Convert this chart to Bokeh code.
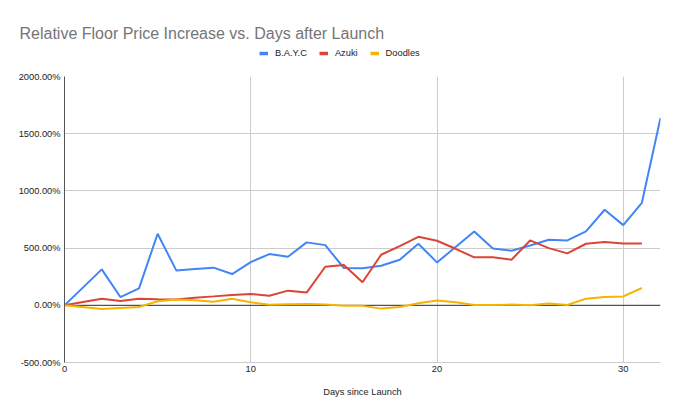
from bokeh.plotting import figure
from bokeh.layouts import column
from bokeh.models import Range1d, Span, Label, Legend, LegendItem, PrintfTickFormatter, FixedTicker, ColumnDataSource
from bokeh.embed import file_html
from bokeh.resources import INLINE

# ---- data (percent increase vs. launch) ----
days_bayc = [0, 2, 3, 4, 5, 6, 7, 8, 9, 10, 11, 12, 13, 14, 15, 16, 17, 18, 19, 20, 21, 22, 23, 24, 25, 26, 27, 28, 29, 30, 31, 32]
bayc = [0, 314, 72, 148, 625, 305, 317, 329, 273, 378, 448, 425, 550, 526, 326, 323, 346, 398, 538, 375, 510, 646, 497, 477, 523, 573, 567, 646, 835, 701, 896, 1638]

days_other = [0, 2, 3, 4, 5, 6, 7, 8, 9, 10, 11, 12, 13, 14, 15, 16, 17, 18, 19, 20, 21, 22, 23, 24, 25, 26, 27, 28, 29, 30, 31]
azuki = [0, 58, 38, 58, 52, 50, 67, 78, 90, 99, 84, 128, 111, 337, 352, 201, 442, 518, 599, 564, 494, 419, 419, 398, 567, 500, 454, 538, 553, 541, 541]
doodles = [0, -32, -23, -15, 35, 50, 45, 32, 58, 26, 5, 10, 11, 8, -3, -5, -29, -15, 17, 41, 26, 3, 2, 6, 0, 15, 3, 58, 73, 78, 151]

y_ticks = [-500, 0, 500, 1000, 1500, 2000]
x_ticks = [0, 10, 20, 30]

series_names = ["B.A.Y.C", "Azuki", "Doodles"]
series_colors = ["#4285F4", "#DB4437", "#F4B400"]
series_x = [days_bayc, days_other, days_other]
series_y = [bayc, azuki, doodles]

title_text = "Relative Floor Price Increase vs. Days after Launch"
x_title = "Days since Launch"

FONT = "Liberation Sans"
GRID = "#cccccc"
W = 664
HEAD_H = 68

# ---- header: title + legend ----
head = figure(width=W, height=HEAD_H, output_backend="svg", toolbar_location=None,
              x_range=Range1d(0, W), y_range=Range1d(HEAD_H, 0),
              min_border_left=0, min_border_right=0, min_border_top=0, min_border_bottom=0)
head.frame_align = False
head.axis.visible = False
head.grid.visible = False
head.outline_line_color = None
head.border_fill_color = "white"
head.background_fill_color = "white"

head.add_layout(Label(x=19, y=33, text=title_text, text_font=FONT, text_font_size="16px",
                      text_color="#757575", text_baseline="alphabetic"))

items = []
for name, col in zip(series_names, series_colors):
    # legend-only renderer (no visible data)
    dummy = head.line(x=[float("nan")], y=[float("nan")], line_color=col, line_width=3.5)
    items.append(LegendItem(label=name, renderers=[dummy]))
legend = Legend(items=items, orientation="horizontal", location=(259, 9),
                glyph_width=9, glyph_height=12, label_height=12, label_standoff=7, spacing=12,
                padding=0, margin=0, border_line_color=None, background_fill_alpha=0,
                label_text_font=FONT, label_text_font_size="9.3px", label_text_color="#222222")
head.add_layout(legend, "center")

# ---- main chart ----
p = figure(width=W, height=401 - HEAD_H, output_backend="svg", toolbar_location=None,
           x_range=Range1d(0, 32), y_range=Range1d(-500, 2000),
           min_border_left=64, min_border_right=4, min_border_top=8, min_border_bottom=39)
p.frame_align = False
p.outline_line_color = None
p.background_fill_color = "white"
p.border_fill_color = "white"

p.yaxis.ticker = FixedTicker(ticks=y_ticks)
p.xaxis.ticker = FixedTicker(ticks=x_ticks)
p.yaxis.formatter = PrintfTickFormatter(format="%.2f%%")
for ax in (p.xaxis, p.yaxis):
    ax.major_tick_line_color = None
    ax.minor_tick_line_color = None
    ax.major_tick_out = 0
    ax.major_tick_in = 0
    ax.major_label_text_font = FONT
    ax.major_label_text_font_size = "9.3px"
    ax.major_label_text_color = "#222222"
    ax.major_label_standoff = 4
p.yaxis.axis_line_color = "#555555"
p.xaxis.axis_line_color = GRID
p.xaxis.major_label_standoff = 3

p.xaxis.axis_label = x_title
p.xaxis.axis_label_text_font = FONT
p.xaxis.axis_label_text_font_size = "9.3px"
p.xaxis.axis_label_text_font_style = "normal"
p.xaxis.axis_label_text_color = "#222222"
p.xaxis.axis_label_standoff = 12

p.xgrid.grid_line_color = GRID
p.ygrid.grid_line_color = GRID
p.xgrid.ticker = FixedTicker(ticks=x_ticks)
p.ygrid.ticker = FixedTicker(ticks=y_ticks)

p.add_layout(Span(location=0, dimension="width", line_color="#333333", line_width=1, level="underlay"))

for xs, ys, col in zip(series_x, series_y, series_colors):
    src = ColumnDataSource(dict(x=xs, y=ys))
    p.line("x", "y", source=src, line_color=col, line_width=2)

layout = column(head, p, spacing=0)
open("out.html", "w").write(file_html(layout, INLINE))
